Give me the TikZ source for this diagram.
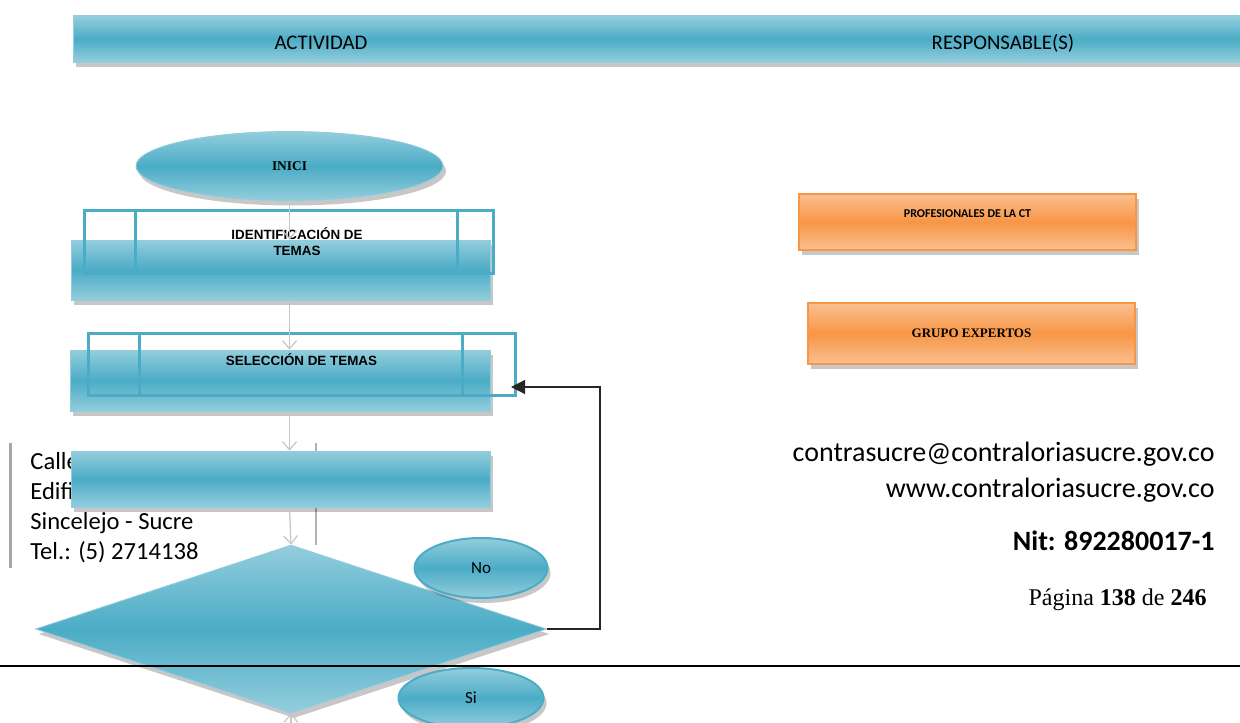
\documentclass[tikz,border=0pt]{standalone}
\usepackage{fontspec}
\setmainfont{Carlito}
\newfontfamily\tnr{Liberation Serif}
\newfontfamily\ari{Liberation Sans}
\usepackage{xcolor}
\usepackage{tikz}
\usetikzlibrary{
	arrows.meta,shapes.geometric,shadows,calc
}
\definecolor{azul}{HTML}{4BACC6}
\definecolor{azulc}{HTML}{93CDDD}
\definecolor{naranja}{HTML}{F79646}
\definecolor{naranjac}{HTML}{FAC090}
\tikzset{
	sombra/.style={drop shadow={shadow xshift=1.5pt,shadow yshift=-2.5pt,fill=black,opacity=.22}},
	bloque/.style={sombra,top color=azulc,bottom color=azulc,middle color=azul,draw=azulc,line width=.4pt,inner sep=0pt},
	marco/.style={draw=azul,line width=1.5pt,inner sep=0pt},
	resp/.style={sombra,top color=naranjac,bottom color=naranjac,middle color=naranja,draw=naranja,line width=1pt,inner sep=0pt},
	flujo/.style={draw=gray!45,line width=.6pt,-{Straight Barb[length=4pt,width=7pt]}},
	texto/.style={inner sep=0pt}
}
\begin{document}
\begin{tikzpicture}[x=0.5pt,y=-0.5pt]
		\useasboundingbox (0,0) rectangle (1240,722);
		\clip (0,0) rectangle (1240,722);
		\fill[white] (0,0) rectangle (1240,722);
		
		% encabezado
		\node[bloque,minimum width=588.5pt,minimum height=23pt] (H) at (661.5,39) {};
		\node (H1) at (321,43) {\fontsize{10.4}{12}\selectfont ACTIVIDAD};
		\node (H2) at (1003,43) {\fontsize{10.4}{12}\selectfont RESPONSABLE(S)};
		
		% membrete
		\draw[gray!70,line width=1.5pt] (10,443) -- (10,568);
		\draw[gray!60,line width=1pt] (316,443) -- (316,545);
		\node[texto,anchor=base west] (L1) at (30,469) {\fontsize{12.3}{14}\selectfont Calle};
		\node[texto,anchor=base west] (L2) at (30,499) {\fontsize{12.3}{14}\selectfont Edifi};
		\node[texto,anchor=base west] (L3) at (30,529) {\fontsize{12.3}{14}\selectfont Sincelejo - Sucre};
		\node[texto,anchor=base west] (L4) at (30,559) {\fontsize{12.3}{14}\selectfont Tel.: (5) 2714138};
		\node[texto,anchor=base east] (R1) at (1215,461) {\fontsize{14}{16}\selectfont contrasucre@contraloriasucre.gov.co};
		\node[texto,anchor=base east] (R2) at (1215,497) {\fontsize{14}{16}\selectfont www.contraloriasucre.gov.co};
		\node[texto,anchor=base east] (R3) at (1215,550) {\fontsize{14}{16}\selectfont\bfseries Nit: 892280017-1};
		\node[texto,anchor=base east] (R4) at (1207,605) {\fontsize{12}{14}\selectfont\tnr P\'agina \textbf{138} de \textbf{246}};
		
		% actividades
		\node[bloque,ellipse,minimum width=153.5pt,minimum height=34.5pt] (I) at (289.5,166) {\fontsize{6.7}{8}\selectfont\tnr\bfseries INICI};
		\node[bloque,minimum width=209.5pt,minimum height=30pt] (Af) at (280.5,270) {};
		\node[marco,minimum width=204.5pt,minimum height=31.5pt,align=center,text depth=-3pt,font=\fontsize{6.7}{8}\selectfont\ari\bfseries] (A) at (288.5,241.5) {\hspace*{8.5pt}IDENTIFICACI\'ON DE\\\hspace*{8.5pt}TEMAS};
		\draw[azul,line width=1.5pt] ($(A.north west)+(53,0)$) -- ($(A.south west)+(53,0)$)
			($(A.north east)+(-37,0)$) -- ($(A.south east)+(-37,0)$);
		\node[bloque,minimum width=210pt,minimum height=30.5pt] (Bf) at (280,380.5) {};
		\node[marco,minimum width=213.5pt,minimum height=31pt,text depth=4pt] (B) at (301.5,364) {\fontsize{6.7}{8}\selectfont\ari\bfseries SELECCI\'ON DE TEMAS};
		\draw[azul,line width=1.5pt] ($(B.north west)+(53,0)$) -- ($(B.south west)+(53,0)$)
			($(B.north east)+(-54,0)$) -- ($(B.south east)+(-54,0)$);
		\node[bloque,minimum width=209.5pt,minimum height=28pt] (C) at (280.5,479) {};
		\node[bloque,diamond,minimum width=255.5pt,minimum height=84pt] (D) at (291,629) {};
		\node[bloque,ellipse,draw=azul,line width=1pt,minimum width=66.5pt,minimum height=30pt] (N) at (481,568) {\fontsize{8.5}{10}\selectfont No};
		
		\draw[black,line width=1pt] (0,666) -- (1240,666);
		\node[bloque,ellipse,draw=azul,line width=1pt,minimum width=72.5pt,minimum height=30pt] (S) at (471,698) {\fontsize{8.5}{10}\selectfont Si};
		
		% responsables
		\node[resp,minimum width=168.5pt,minimum height=28pt,text depth=8pt] (P) at (967.5,222) {\fontsize{6}{7}\selectfont\bfseries PROFESIONALES DE LA CT};
		\node[resp,minimum width=163.5pt,minimum height=30.5pt] (G) at (971.5,333.5) {\fontsize{6.5}{8}\selectfont\tnr\bfseries GRUPO EXPERTOS};
		
		\coordinate (v) at (600,387);
		\coordinate (Bin) at (511,387);
		\coordinate (fin) at (291,760);
		%
		\path[flujo]
			(I.south) edge (I.south |- Af.north)
			(Af.south -| I.south) edge (I.south |- Bf.north)
			(Bf.south -| I.south) edge (I.south |- C.north)
			(C.south -| I.south) edge (D.north)
			(D.south) edge (fin);
		\draw[black!85,line width=.6pt,-{Triangle[length=7pt,width=7pt]}] (D.east) -| (v) -- (Bin);
		
	\end{tikzpicture}
\end{document}
